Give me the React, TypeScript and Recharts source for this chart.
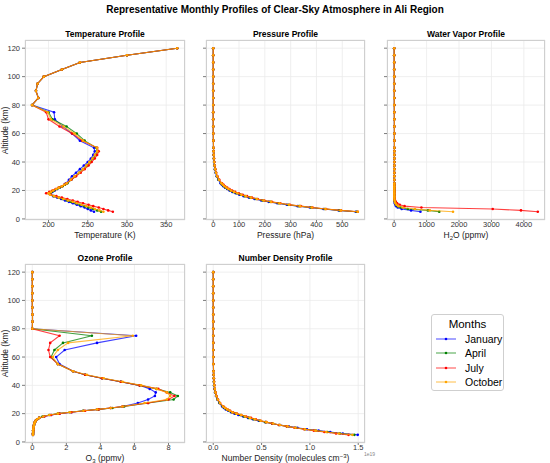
import React from 'react'
import { ScatterChart, Scatter, XAxis, YAxis, CartesianGrid } from 'recharts'

// altitude levels (km), shared by every profile
const ALTITUDES = [5, 6, 7, 8, 9, 10, 11, 12, 13, 14, 15, 16, 17, 18, 19, 20, 21, 22, 23, 24, 25,
  27.5, 30, 32.5, 35, 37.5, 40, 42.5, 45, 47.5, 50,
  55, 60, 65, 70, 75, 80, 85, 90, 95, 100, 105, 110, 115, 120]

const MONTHS = ['January', 'April', 'July', 'October']
const COLORS = ['blue', 'green', 'red', 'orange']
const Y_TICKS = [0, 20, 40, 60, 80, 100, 120]

// temperature (K), 5..80 km per month, 85..120 km shared
const TEMP_JAN = [258, 254, 250, 246, 241, 236, 231, 226, 221, 216, 211, 206, 203, 202, 205, 208, 211, 214, 217, 220, 222,
  226, 230, 235, 240, 245, 250, 254, 257, 259, 258, 240, 230, 218, 208, 207, 179]
const TEMP_APR = [267, 262, 257, 251, 246, 240, 235, 229, 224, 218, 213, 207, 203, 201, 204, 207, 211, 214, 218, 221, 224,
  229, 234, 239, 244, 249, 253, 257, 260, 262, 261, 246, 236, 223, 205, 200, 179]
const TEMP_JUL = [282, 276, 270, 264, 257, 251, 244, 237, 231, 224, 217, 210, 203, 197, 201, 205, 209, 213, 217, 220, 223,
  229, 235, 241, 246, 251, 255, 259, 262, 264, 262, 243, 230, 214, 200, 197, 179]
const TEMP_OCT = [270, 265, 259, 254, 248, 242, 236, 231, 225, 219, 213, 207, 202, 200, 203, 206, 210, 213, 217, 220, 223,
  228, 233, 239, 244, 248, 252, 256, 259, 262, 262, 244, 233, 219, 203, 199, 179]
const TEMP_UPPER = [187, 184, 186, 194, 217, 240, 300, 364]

// pressure (hPa), 5..50 km per month, 55..120 km shared
const P_JAN = [552, 486, 427, 374, 327, 285, 248, 215, 186, 160, 138, 118, 101, 87, 74, 63, 54, 46, 39, 33.5, 28.5,
  19.5, 13.3, 9.2, 6.4, 4.5, 3.2, 2.3, 1.7, 1.2, 0.9]
const P_APR = [556, 490, 432, 379, 333, 291, 254, 221, 192, 166, 143, 123, 106, 91, 78, 67, 57, 49, 42, 36, 31,
  21, 14.6, 10.2, 7.2, 5.1, 3.6, 2.6, 1.9, 1.4, 1.05]
const P_JUL = [560, 495, 437, 385, 339, 297, 260, 227, 198, 172, 150, 131, 114, 99, 85, 73, 63, 54, 46, 40, 34,
  23.5, 16.5, 11.6, 8.2, 5.9, 4.2, 3.1, 2.3, 1.7, 1.25]
const P_OCT = [560, 494, 435, 382, 336, 294, 257, 224, 195, 169, 146, 126, 109, 94, 81, 69, 59, 51, 43.5, 37.5, 32,
  22, 15.3, 10.7, 7.5, 5.4, 3.8, 2.8, 2.0, 1.5, 1.1]
const P_UPPER = [0.62, 0.33, 0.17, 0.08, 0.035, 0.013, 0.005, 0.002, 0.0008, 0.0003, 0.0001, 0.00005, 0.00003, 0.00002]

// water vapour (ppmv), 5..15 km per month, 16..120 km shared
const WV_JAN = [810, 520, 230, 110, 60, 35, 20, 12, 8, 5, 4.5]
const WV_APR = [1390, 1040, 420, 200, 110, 65, 35, 20, 12, 7, 5]
const WV_JUL = [4430, 3910, 3040, 840, 320, 170, 90, 50, 25, 12, 7]
const WV_OCT = [1815, 1100, 640, 260, 130, 70, 40, 22, 12, 7, 5]
const WV_UPPER = [4.5, 4.3, 4.2, 4.2, 4.3, 4.4, 4.5, 4.6, 4.7, 4.8,
  5.0, 5.3, 5.6, 5.9, 6.2, 6.4, 6.6, 6.7, 6.8, 6.8,
  6.6, 6.2, 5.8, 5.2, 4.6, 4.0, 3.4, 2.8, 2.2, 1.6, 1.1, 0.7, 0.4, 0.2]

// ozone (ppmv), 5..80 km per month, 85..120 km shared
const O3_JAN = [0.04, 0.04, 0.05, 0.05, 0.06, 0.07, 0.08, 0.1, 0.12, 0.15, 0.2, 0.28, 0.4, 0.7, 1.1, 1.6, 2.3, 3.0, 3.8, 4.6, 5.3,
  6.2, 6.8, 7.2, 7.25, 6.9, 6.3, 5.2, 4.1, 3.1, 2.4, 1.6, 1.4, 1.9, 3.8, 6.1, 0]
const O3_APR = [0.04, 0.04, 0.05, 0.05, 0.06, 0.07, 0.08, 0.1, 0.12, 0.15, 0.2, 0.28, 0.4, 0.6, 1.0, 1.5, 2.2, 3.0, 3.9, 4.7, 5.4,
  6.8, 8.3, 8.55, 8.1, 7.3, 6.3, 5.2, 4.1, 3.1, 2.4, 1.5, 1.1, 1.3, 1.8, 3.5, 0]
const O3_JUL = [0.04, 0.04, 0.05, 0.05, 0.06, 0.07, 0.08, 0.1, 0.12, 0.15, 0.2, 0.28, 0.4, 0.7, 1.1, 1.6, 2.3, 3.1, 3.9, 4.6, 5.3,
  6.8, 8.0, 8.35, 7.9, 7.4, 6.3, 5.2, 4.1, 3.1, 2.4, 1.5, 1.05, 0.95, 1.05, 1.6, 0]
const O3_OCT = [0.04, 0.04, 0.05, 0.05, 0.06, 0.07, 0.08, 0.1, 0.12, 0.15, 0.2, 0.28, 0.4, 0.65, 1.0, 1.5, 2.2, 3.0, 3.8, 4.6, 5.3,
  6.6, 7.9, 8.1, 7.9, 7.3, 6.4, 5.3, 4.2, 3.2, 2.4, 1.5, 1.2, 1.5, 2.1, 5.9, 0]
const O3_UPPER = [0.01, 0.01, 0, 0, 0, 0, 0, 0]

// number density (1e19 molecules cm^-3), 5..50 km per month, 55..120 km shared
const N_JAN = [1.495, 1.34, 1.21, 1.09, 0.97, 0.87, 0.78, 0.69, 0.61, 0.54, 0.47, 0.41, 0.36, 0.31, 0.26, 0.22, 0.185, 0.155, 0.13, 0.11, 0.092,
  0.062, 0.042, 0.028, 0.019, 0.013, 0.0093, 0.0066, 0.0048, 0.0034, 0.0025]
const N_APR = [1.46, 1.31, 1.18, 1.06, 0.95, 0.85, 0.76, 0.68, 0.61, 0.54, 0.48, 0.42, 0.37, 0.32, 0.28, 0.235, 0.195, 0.165, 0.14, 0.118, 0.1,
  0.066, 0.045, 0.031, 0.021, 0.015, 0.01, 0.0073, 0.0053, 0.0039, 0.0029]
const N_JUL = [1.4, 1.27, 1.15, 1.04, 0.94, 0.84, 0.76, 0.68, 0.61, 0.55, 0.49, 0.44, 0.39, 0.34, 0.29, 0.245, 0.205, 0.175, 0.148, 0.125, 0.106,
  0.071, 0.049, 0.034, 0.024, 0.016, 0.012, 0.0083, 0.006, 0.0044, 0.0033]
const N_OCT = [1.44, 1.3, 1.17, 1.06, 0.95, 0.85, 0.77, 0.69, 0.62, 0.55, 0.49, 0.43, 0.38, 0.33, 0.29, 0.24, 0.2, 0.17, 0.145, 0.122, 0.103,
  0.069, 0.047, 0.032, 0.022, 0.016, 0.011, 0.0079, 0.0057, 0.0042, 0.0031]
const N_UPPER = [0.0014, 0.0008, 0.00045, 0.00024, 0.00012, 0.00006, 0.00003, 0.000012, 0.000005, 0.000002, 0.000001, 0.0000005, 0.0000002, 0.0000001]

const FONT = '"Liberation Sans", Arial, sans-serif'

const toPoints = (values: number[]) => values.map((v, i) => ({ x: v, y: ALTITUDES[i] }))

const buildSeries = (lists: number[][], upper: number[]) => lists.map(l => toPoints([...l, ...upper]))

interface PanelProps {
  left: number
  top: number
  width: number
  height: number
  title: string
  xLabel: React.ReactNode
  xDomain: [number, number]
  xTicks: number[]
  xFormat?: (v: number) => string
  series: { x: number; y: number }[][]
  showYLabels: boolean
}

function ProfilePanel({ left, top, width, height, title, xLabel, xDomain, xTicks, xFormat, series, showYLabels }: PanelProps) {
  return (
    <>
      <div style={{ position: 'absolute', left, top: top - 11, width, textAlign: 'center', fontWeight: 'bold', fontSize: 8.5, lineHeight: '10px' }}>
        {title}
      </div>
      <div style={{ position: 'absolute', left: left - 30, top: top - 2 }}>
        <ScatterChart width={width + 35} height={height + 22} margin={{ top: 2, right: 5, bottom: 0, left: 0 }}>
          <CartesianGrid stroke="#ebebeb" strokeWidth={0.8} />
          <XAxis
            type="number"
            dataKey="x"
            domain={xDomain}
            ticks={xTicks}
            interval={0}
            allowDataOverflow
            height={20}
            axisLine={false}
            tickSize={2}
            tickMargin={0}
            tickLine={{ stroke: '#444', strokeWidth: 0.7 }}
            tick={{ fontSize: 7.5, fill: '#333', fontFamily: FONT }}
            tickFormatter={xFormat}
          />
          <YAxis
            type="number"
            dataKey="y"
            domain={[-0.75, 125.75]}
            ticks={Y_TICKS}
            interval={0}
            allowDataOverflow
            width={30}
            axisLine={false}
            tickSize={3}
            tickMargin={2}
            tickLine={{ stroke: '#444', strokeWidth: 0.7 }}
            tick={{ fontSize: 7.5, fill: '#333', fontFamily: FONT }}
            tickFormatter={showYLabels ? (v: number) => String(v) : () => ''}
          />
          {series.map((data, i) => (
            <Scatter
              key={MONTHS[i]}
              name={MONTHS[i]}
              data={data}
              fill={COLORS[i]}
              line={{ stroke: COLORS[i], strokeWidth: 1.1, strokeOpacity: 0.75 }}
              lineType="joint"
              isAnimationActive={false}
              shape={(p: any) => <circle cx={p.cx} cy={p.cy} r={1.3} fill={COLORS[i]} />}
            />
          ))}
        </ScatterChart>
      </div>
      <div style={{ position: 'absolute', left, top, width, height, border: '1px solid #cfcfcf', boxSizing: 'border-box', pointerEvents: 'none' }} />
      <div style={{ position: 'absolute', left, top: top + height + 11, width, textAlign: 'center', fontSize: 8.5, lineHeight: '8px', color: '#222' }}>
        {xLabel}
      </div>
      {showYLabels && (
        <div style={{
          position: 'absolute', left: 4.5 - 40, top: top + height / 2 - 3.5, width: 80, textAlign: 'center',
          fontSize: 8.5, lineHeight: '7px', color: '#222', transform: 'rotate(-90deg)',
        }}>
          Altitude (km)
        </div>
      )}
    </>
  )
}

export default function App() {
  const temp = buildSeries([TEMP_JAN, TEMP_APR, TEMP_JUL, TEMP_OCT], TEMP_UPPER)
  const pres = buildSeries([P_JAN, P_APR, P_JUL, P_OCT], P_UPPER)
  const wv = buildSeries([WV_JAN, WV_APR, WV_JUL, WV_OCT], WV_UPPER)
  const o3 = buildSeries([O3_JAN, O3_APR, O3_JUL, O3_OCT], O3_UPPER)
  const dens = buildSeries([N_JAN, N_APR, N_JUL, N_OCT], N_UPPER)

  const sub = { fontSize: 6, lineHeight: 0, verticalAlign: '-1.5px' }
  const sup = { fontSize: 6, lineHeight: 0, verticalAlign: '3px' }

  return (
    <div style={{ position: 'absolute', left: 0, top: 0, width: 550, height: 463, background: '#fff', fontFamily: FONT, color: '#000', overflow: 'hidden' }}>
      <div style={{ position: 'absolute', left: 0, top: 4, width: 550, textAlign: 'center', fontWeight: 'bold', fontSize: 10, lineHeight: '12px' }}>
        Representative Monthly Profiles of Clear-Sky Atmosphere in Ali Region
      </div>

      <ProfilePanel left={25} top={40} width={160} height={180} title="Temperature Profile" xLabel="Temperature (K)"
        xDomain={[170, 374]} xTicks={[200, 250, 300, 350]} series={temp} showYLabels />
      <ProfilePanel left={206} top={40} width={159} height={180} title="Pressure Profile" xLabel="Pressure (hPa)"
        xDomain={[-28, 588]} xTicks={[0, 100, 200, 300, 400, 500]} series={pres} showYLabels={false} />
      <ProfilePanel left={387} top={40} width={158} height={180} title="Water Vapor Profile"
        xLabel={<span>H<span style={sub}>2</span>O (ppmv)</span>}
        xDomain={[-222, 4652]} xTicks={[0, 1000, 2000, 3000, 4000]} series={wv} showYLabels={false} />

      <ProfilePanel left={25} top={264} width={160} height={179} title="Ozone Profile"
        xLabel={<span>O<span style={sub}>3</span> (ppmv)</span>}
        xDomain={[-0.43, 8.97]} xTicks={[0, 2, 4, 6, 8]} series={o3} showYLabels />
      <ProfilePanel left={206} top={264} width={159} height={179} title="Number Density Profile"
        xLabel={<span>Number Density (molecules cm<span style={sup}>−3</span>)</span>}
        xDomain={[-0.075, 1.57]} xTicks={[0, 0.5, 1, 1.5]} xFormat={(v: number) => v.toFixed(1)} series={dens} showYLabels={false} />
      <div style={{ position: 'absolute', left: 364, top: 451, fontSize: 5, lineHeight: '6px', color: '#888' }}>1e19</div>

      <div style={{ position: 'absolute', left: 431, top: 314, width: 73, height: 77, border: '1px solid #cfcfcf', borderRadius: 3, boxSizing: 'border-box' }}>
        <div style={{ position: 'absolute', left: 0, top: 2, width: 71, textAlign: 'center', fontSize: 11.5, lineHeight: '14px' }}>Months</div>
        {MONTHS.map((m, i) => (
          <div key={m} style={{ position: 'absolute', left: 3, top: 17 + i * 14.3, height: 14, display: 'flex', alignItems: 'center' }}>
            <svg width={22} height={14}>
              <line x1={1} y1={7} x2={21} y2={7} stroke={COLORS[i]} strokeWidth={1.2} strokeOpacity={0.6} />
              <circle cx={11} cy={7} r={1.3} fill={COLORS[i]} />
            </svg>
            <span style={{ marginLeft: 8, fontSize: 10.5, lineHeight: '14px' }}>{m}</span>
          </div>
        ))}
      </div>
    </div>
  )
}
